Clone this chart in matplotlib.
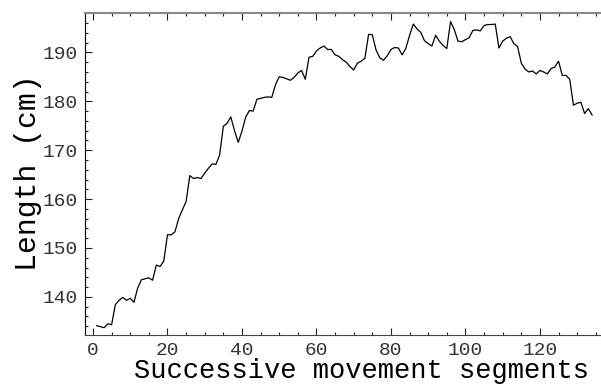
import numpy as np
import matplotlib
matplotlib.use("Agg")
import matplotlib.pyplot as plt
from matplotlib.ticker import MultipleLocator

# segment index and measured length (cm)
segments = np.arange(1, 135)
length_cm = [
    134.1, 133.9, 133.7, 134.5, 134.3, 138.4, 139.3, 139.9, 139.3, 139.7,
    138.9, 141.8, 143.5, 143.7, 143.9, 143.4, 146.5, 146.2, 147.3, 152.7,
    152.7, 153.3, 156.0, 157.8, 159.5, 164.8, 164.2, 164.4, 164.2, 165.3,
    166.3, 167.2, 167.1, 169.0, 174.9, 175.5, 176.8, 174.0, 171.6, 173.9,
    176.8, 178.1, 178.0, 180.4, 180.6, 180.8, 180.9, 180.8, 183.4, 185.0,
    184.9, 184.6, 184.3, 184.9, 185.8, 186.3, 184.5, 189.0, 189.2, 190.3,
    190.9, 191.3, 190.6, 190.6, 189.5, 189.2, 188.5, 188.0, 187.1, 186.4,
    187.8, 188.2, 188.8, 193.7, 193.6, 190.5, 188.9, 188.4, 189.3, 190.6,
    191.0, 190.9, 189.5, 190.8, 193.5, 195.8, 194.8, 194.1, 192.4, 191.8,
    191.3, 193.5, 192.3, 191.4, 190.8, 196.3, 194.7, 192.3, 192.2, 192.6,
    193.0, 194.5, 194.6, 194.4, 195.5, 195.7, 195.7, 195.8, 190.9, 192.3,
    192.9, 193.2, 191.8, 191.2, 187.8, 186.6, 186.0, 186.2, 185.6, 186.3,
    186.0, 185.6, 186.7, 187.0, 188.2, 185.3, 185.3, 184.5, 179.2, 179.6,
    179.8, 177.5, 178.5, 177.2,
]

x_ticks = [0, 20, 40, 60, 80, 100, 120]
y_ticks = [140, 150, 160, 170, 180, 190]

mono = "Liberation Mono"

fig = plt.figure(figsize=(6.01, 3.84), dpi=100)
ax = fig.add_axes([0.1414, 0.1276, 0.8586, 0.8378])

ax.plot(segments, length_cm, color="black", lw=0.9)

ax.set_xlim(-2.15, 136.4)
ax.set_ylim(132.2, 198.0)
ax.set_xticks(x_ticks)
ax.set_yticks(y_ticks)
ax.xaxis.set_minor_locator(MultipleLocator(5))
ax.yaxis.set_minor_locator(MultipleLocator(2))

ax.tick_params(which="both", direction="in", top=True, right=False,
               colors="#222222", width=0.8)
ax.tick_params(which="major", length=5, labelsize=14, labelcolor="#333333")
ax.tick_params(axis="x", which="major", pad=5)
ax.tick_params(axis="y", which="major", pad=5)
ax.tick_params(which="minor", length=2.5)
for lab in ax.get_xticklabels() + ax.get_yticklabels():
    lab.set_family(mono)

ax.spines["right"].set_visible(False)
ax.spines["left"].set_color("black")
ax.spines["bottom"].set_color("#444444")
ax.spines["top"].set_color("#888888")
ax.spines["top"].set_linewidth(1.5)

ax.set_xlabel("Successive movement segments", family=mono, fontsize=19.5)
ax.xaxis.set_label_coords(0.535, -0.071)
ax.set_ylabel("Length (cm)", family=mono, fontsize=21.5, va="center")
ax.yaxis.set_label_coords(-0.110, 0.505)

fig.savefig("out.png", dpi=100)
